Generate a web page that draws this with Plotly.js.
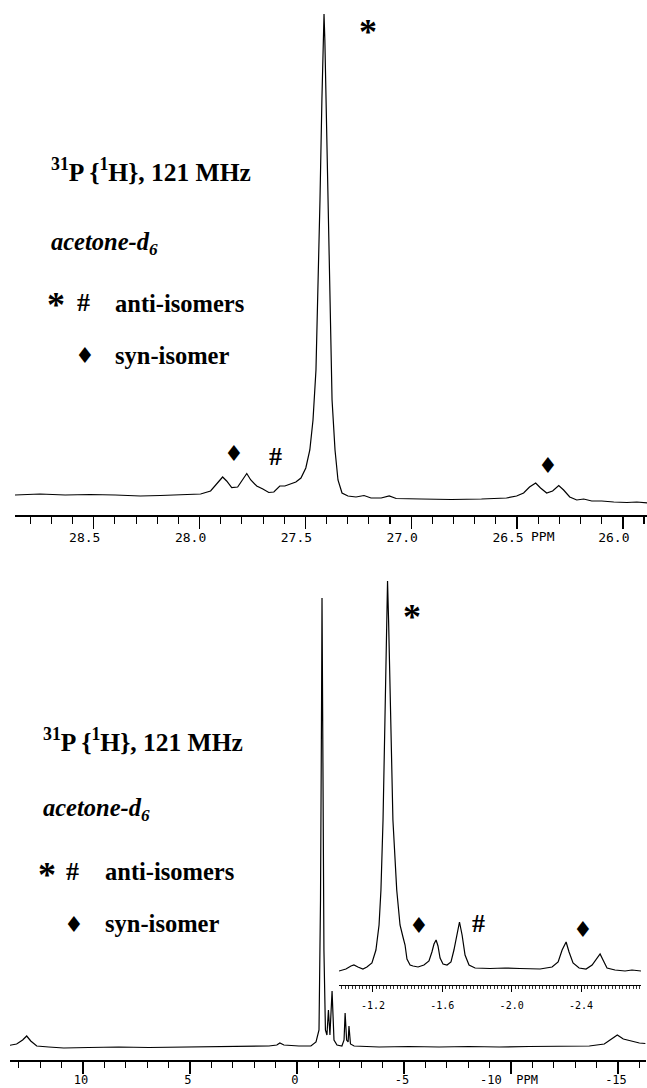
<!DOCTYPE html>
<html><head><meta charset="utf-8">
<script src="https://cdn.plot.ly/plotly-3.0.1.min.js"></script>
<style>html,body{margin:0;padding:0;background:#fff;}</style>
</head><body>
<div id="chart" style="width:647px;height:1088px"></div>
<script>
// ---- Top spectrum (expanded 31P{1H}, 28.9 - 25.9 ppm) ----
const topPpm = [28.872,28.754,28.635,28.517,28.398,28.280,28.185,28.090,27.995,27.948,27.919,27.891,27.872,27.848,27.820,27.796,27.777,27.758,27.730,27.701,27.673,27.649,27.621,27.597,27.569,27.545,27.521,27.498,27.479,27.464,27.450,27.441,27.431,27.422,27.415,27.412,27.408,27.401,27.393,27.384,27.374,27.360,27.346,27.327,27.299,27.261,27.223,27.190,27.142,27.104,27.071,26.953,26.810,26.668,26.550,26.502,26.469,26.441,26.412,26.389,26.360,26.332,26.303,26.280,26.251,26.218,26.185,26.147,26.100,26.043,25.981,25.934,25.877];
const topIntensity = [20,21,20,20.5,20,19,19.5,20,21,24,31,38,34,27.5,28,35,41.5,35,29,26,22.5,23,29,29,31,33,37,47,65,95,145,215,315,415,475,501,475,395,295,195,115,65,35,22,19,18,19.5,17,17,19,16.5,16,15.5,16,17,19,22,28,32,27,22,24,29.5,25,18,15,16,14,14,13,12.5,13,12];

// ---- Bottom full spectrum (13.4 to -16.3 ppm) ----
const fullPpm = [13.47,13.10,12.82,12.63,12.44,12.16,11.60,10.90,9.73,8.33,6.92,5.52,4.12,2.71,1.31,0.94,0.80,0.61,-0.09,-0.65,-0.89,-1.03,-1.10,-1.15,-1.17,-1.21,-1.26,-1.33,-1.40,-1.47,-1.54,-1.64,-1.73,-1.87,-2.10,-2.20,-2.25,-2.32,-2.39,-2.43,-2.50,-2.67,-3.84,-5.24,-6.64,-8.04,-9.45,-10.85,-12.25,-13.66,-14.36,-14.69,-14.97,-15.25,-15.62,-16.00,-16.28];
const fullIntensity = [14.5,16,20,24,19,14,13,12,12.5,13,12.5,13,13.5,13.5,14,15,17,15,14,14,18,30,160,360,462,310,110,30,25,50,25,69,20,15,14,20,47,20,18,34,16,14,13,13.5,13,13.5,13,13.5,13.5,14,16,21,25,21,19,17,16.5];

// ---- Inset (expansion -1.0 to -2.75 ppm) ----
const insetPpm = [-1.004,-1.044,-1.073,-1.090,-1.113,-1.142,-1.165,-1.194,-1.217,-1.235,-1.246,-1.258,-1.269,-1.278,-1.284,-1.290,-1.298,-1.315,-1.337,-1.356,-1.373,-1.385,-1.396,-1.414,-1.431,-1.460,-1.494,-1.523,-1.540,-1.552,-1.564,-1.575,-1.587,-1.604,-1.627,-1.650,-1.667,-1.685,-1.699,-1.714,-1.731,-1.754,-1.789,-1.875,-1.962,-2.048,-2.164,-2.233,-2.268,-2.291,-2.314,-2.331,-2.354,-2.389,-2.429,-2.464,-2.487,-2.510,-2.527,-2.550,-2.596,-2.654,-2.694,-2.746];
const insetIntensity = [14,16,19,20,18,16,18,22,35,60,95,165,265,355,404,365,290,165,95,60,48,40,26,20,19,18,20,24,33,41,45,39,27,21,20,23,35,53,63,50,30,20,17,16.5,17,16.5,16,18,23,35,43,33,22,17,16,20,26,31,25,17,15,14,15,14];

// ---- Tick labels ----
const topTickVals = [28.5, 28.0, 27.5, 27.0, 26.5, 26.0];
const topTickText = ["28.5", "28.0", "27.5", "27.0", "26.5", "26.0"];
const fullTickVals = [10, 5, 0, -5, -10, -15];
const fullTickText = ["10", "5", "0", "-5", "-10\u00a0\u00a0PPM", "-15"];
const insetLabelVals = [-1.2, -1.6, -2.0, -2.4];
const insetLabelText = ["-1.2", "-1.6", "-2.0", "-2.4"];
const insetMidTickVals = [-1.1,-1.2,-1.3,-1.4,-1.5,-1.6,-1.7,-1.8,-1.9,-2.0,-2.1,-2.2,-2.3,-2.4,-2.5,-2.6,-2.7];

// ---- Annotation texts ----
const headerText = "<b><sup>31</sup>P {<sup>1</sup>H}, 121 MHz</b>";
const solventText = "<b><i>acetone-d<sub>6</sub></i></b>";
const antiText = "<b>anti-isomers</b>";
const synText = "<b>syn-isomer</b>";

const W = 647, H = 1088;
const fx = p => p / W;
const fy = p => 1 - p / H;
const serif = "Liberation Serif, Times New Roman, serif";
const mono = "DejaVu Sans Mono, monospace";

function ann(text, x, y, opts) {
  opts = opts || {};
  return {
    text: text, xref: "paper", yref: "paper", x: fx(x), y: fy(y),
    xanchor: opts.xa || "center", yanchor: "middle", showarrow: false,
    font: { family: opts.family || serif, size: opts.size || 24.5, color: "#000" }
  };
}

const line = { color: "#000", width: 1.2 };
const traces = [
  { x: topPpm, y: topIntensity, xaxis: "x", yaxis: "y", mode: "lines", line: line, hoverinfo: "skip" },
  { x: fullPpm, y: fullIntensity, xaxis: "x2", yaxis: "y2", mode: "lines", line: line, hoverinfo: "skip" },
  { x: insetPpm, y: insetIntensity, xaxis: "x3", yaxis: "y3", mode: "lines", line: line, hoverinfo: "skip" }
];

const axisBase = {
  showline: true, linecolor: "#000", ticks: "outside", tickcolor: "#000",
  showgrid: false, zeroline: false, fixedrange: true
};

const layout = {
  width: W, height: H, margin: { l: 0, r: 0, t: 0, b: 0 },
  paper_bgcolor: "#fff", plot_bgcolor: "rgba(0,0,0,0)", showlegend: false,
  xaxis: Object.assign({}, axisBase, {
    domain: [fx(15), 1], range: [28.872, 25.886], anchor: "y",
    linewidth: 1.5, ticklen: 12, tickwidth: 1.3,
    tickmode: "array", tickvals: topTickVals, ticktext: topTickText,
    tickfont: { family: mono, size: 13, color: "#000" }, ticklabelshift: 9, ticklabelstandoff: -2,
    minor: { tickmode: "linear", tick0: 0, dtick: 0.1, ticklen: 7, tickwidth: 1.1, tickcolor: "#000", ticks: "outside", showgrid: false }
  }),
  yaxis: { domain: [fy(515), fy(10)], range: [0, 505], visible: false, fixedrange: true },
  xaxis2: Object.assign({}, axisBase, {
    domain: [fx(10), fx(646)], range: [13.41, -16.31], anchor: "y2",
    linewidth: 1.5, ticklen: 12, tickwidth: 1.3,
    tickmode: "array", tickvals: fullTickVals, ticktext: fullTickText,
    tickfont: { family: mono, size: 12, color: "#000" }, ticklabelshift: 2, ticklabelstandoff: -4,
    minor: { tickmode: "linear", tick0: 0, dtick: 1, ticklen: 6, tickwidth: 1.1, tickcolor: "#000", ticks: "outside", showgrid: false }
  }),
  yaxis2: { domain: [fy(1060), fy(590)], range: [0, 470], visible: false, fixedrange: true },
  xaxis3: Object.assign({}, axisBase, {
    domain: [fx(339), fx(641)], range: [-1.004, -2.746], anchor: "y3",
    linewidth: 1.3, ticklen: 6, tickwidth: 1,
    tickmode: "array", tickvals: insetLabelVals, ticktext: insetLabelText,
    tickfont: { family: mono, size: 10, color: "#000" }, ticklabelstandoff: 5,
    minor: { tickmode: "linear", tick0: 0, dtick: 0.02, ticklen: 3, tickwidth: 0.8, tickcolor: "#000", ticks: "outside", showgrid: false }
  }),
  xaxis4: {
    overlaying: "x3", anchor: "y3", range: [-1.004, -2.746],
    showline: false, showgrid: false, zeroline: false, fixedrange: true,
    ticks: "outside", ticklen: 5, tickwidth: 1, tickcolor: "#000",
    tickmode: "array", tickvals: insetMidTickVals, showticklabels: false
  },
  yaxis3: { domain: [fy(985), fy(575)], range: [0, 410], visible: false, fixedrange: true },
  annotations: [
    // top panel legend block
    ann(headerText, 49, 170, { xa: "left", size: 25.5 }),
    ann(solventText, 49, 244, { xa: "left" }),
    ann("<b>*</b>", 56, 305, { size: 36 }),
    ann("<b>#</b>", 83, 302, { size: 26 }),
    ann(antiText, 113, 303, { xa: "left" }),
    ann("\u2666", 85, 356, { family: "DejaVu Sans", size: 22 }),
    ann(synText, 113, 355, { xa: "left" }),
    // top panel peak labels
    ann("<b>*</b>", 368, 32, { size: 36 }),
    ann("\u2666", 234, 454, { family: "DejaVu Sans", size: 22 }),
    ann("<b>#</b>", 275, 456, { size: 26 }),
    ann("\u2666", 548, 465, { family: "DejaVu Sans", size: 22 }),
    ann("PPM", 543, 536, { family: mono, size: 13 }),
    // bottom panel legend block
    ann(headerText, 41, 740, { xa: "left", size: 25.5 }),
    ann(solventText, 41, 809, { xa: "left" }),
    ann("<b>*</b>", 47, 875, { size: 36 }),
    ann("<b>#</b>", 72, 871, { size: 26 }),
    ann(antiText, 103, 871, { xa: "left" }),
    ann("\u2666", 73.5, 924.5, { family: "DejaVu Sans", size: 22 }),
    ann(synText, 102.5, 923, { xa: "left" }),
    // inset peak labels
    ann("<b>*</b>", 412, 617, { size: 36 }),
    ann("\u2666", 419, 925.5, { family: "DejaVu Sans", size: 22 }),
    ann("<b>#</b>", 479, 923, { size: 26 }),
    ann("\u2666", 583, 929, { family: "DejaVu Sans", size: 22 })
  ]
};

Plotly.newPlot("chart", traces, layout, { staticPlot: true, displayModeBar: false });
</script>
</body></html>
